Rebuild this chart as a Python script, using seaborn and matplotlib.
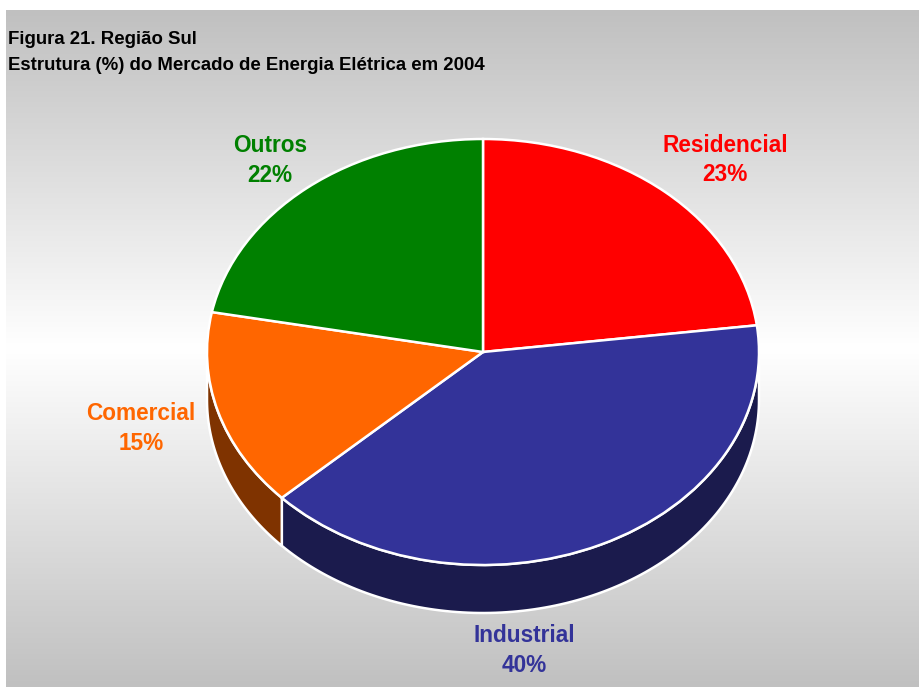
import numpy as np
import matplotlib
matplotlib.use("Agg")
import matplotlib.pyplot as plt
from matplotlib.patches import Polygon
import seaborn as sns

# Market structure, southern region, 2004 (share of electricity consumption, %)
categories = ["Residencial", "Industrial", "Comercial", "Outros"]
shares = [23, 40, 15, 22]
top_colors = ["#ff0000", "#333399", "#ff6600", "#008000"]
side_colors = ["#7f0000", "#1b1b4d", "#7f3300", "#004000"]
title_lines = ["Figura 21. Região Sul",
               "Estrutura (%) do Mercado de Energia Elétrica em 2004"]

sns.set_theme(style="white")
plt.rcParams["font.family"] = ["Liberation Sans", "DejaVu Sans"]

W, H = 919, 687
fig = plt.figure(figsize=(W / 100, H / 100), dpi=100)
fig.patch.set_facecolor("white")

# Chart area with a grey-white-grey vertical gradient
bg = fig.add_axes([6 / W, 0, (W - 6) / W, (H - 10) / H])
g = np.abs(np.linspace(-1, 1, 400))
levels = 1.0 - (1.0 - 192 / 255) * g
grad = np.repeat(levels[:, None], 2, axis=1)
bg.imshow(np.dstack([grad, grad, grad]), aspect="auto", extent=[0, 1, 0, 1],
          interpolation="bicubic")
bg.set_axis_off()

# Pie axes: unit circle is mapped onto a flattened ellipse to give a tilted look
cx, cy, rx, ry = 483, 352, 276, 213
depth = 48 / ry
ax = fig.add_axes([0, 0, 1, 1])
ax.patch.set_alpha(0)

# Side walls of the disc (front half only)
fractions = np.array(shares) / sum(shares)
start = 90.0
for frac, scol in zip(fractions, side_colors):
    end = start - frac * 360.0
    lo, hi = end, start
    # visible front half: angles in [-180, 0] (mod 360)
    for base in (-360.0, 0.0, 360.0):
        a = max(lo, base - 180.0)
        b = min(hi, base)
        if b > a:
            t = np.radians(np.linspace(a, b, 120))
            upper = np.column_stack([np.cos(t), np.sin(t)])
            lower = np.column_stack([np.cos(t), np.sin(t) - depth])[::-1]
            ax.add_patch(Polygon(np.vstack([upper, lower]), closed=True,
                                 facecolor=scol, edgecolor="white",
                                 linewidth=1.8, joinstyle="round", zorder=1))
    start = end

wedges, _ = ax.pie(shares, colors=top_colors, startangle=90, counterclock=False,
                   radius=1.0, center=(0, 0),
                   wedgeprops=dict(edgecolor="white", linewidth=1.8, zorder=2))
ax.set_aspect("auto")
ax.set_xlim(-cx / rx, (W - cx) / rx)
ax.set_ylim(-(H - cy) / ry, cy / ry)
ax.set_axis_off()

# Category labels with their percentages
label_pos = {"Residencial": (725, 145), "Industrial": (524, 636),
             "Comercial": (141, 414), "Outros": (270, 146)}
for cat, val, col in zip(categories, shares, top_colors):
    x, y = label_pos[cat]
    fig.text(x / W, 1 - y / H, cat, color=col, fontsize=16.3, fontweight="bold",
             ha="center", va="center")
    fig.text(x / W, 1 - (y + 29.5) / H, f"{val}%", color=col, fontsize=16.3,
             fontweight="bold", ha="center", va="center")

fig.text(8 / W, 1 - 40 / H, title_lines[0], fontsize=13.4, fontweight="bold",
         color="black", ha="left", va="center")
fig.text(8 / W, 1 - 65 / H, title_lines[1], fontsize=13.4, fontweight="bold",
         color="black", ha="left", va="center")

fig.savefig("out.png", dpi=100)
